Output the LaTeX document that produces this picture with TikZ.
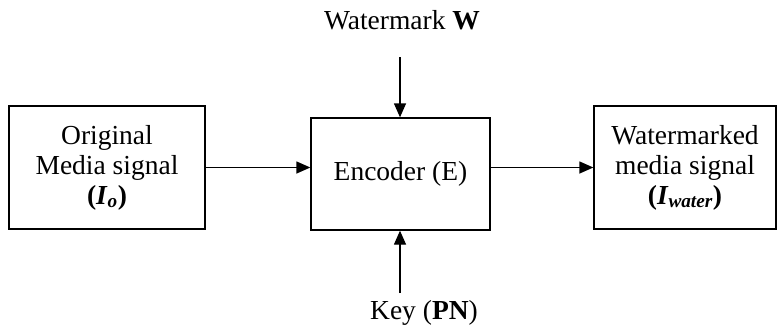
\documentclass[tikz,border=0pt]{standalone}
\usepackage{fontspec}
\setmainfont{Liberation Serif}
\usetikzlibrary{arrows.meta,positioning}

\begin{document}
\begin{tikzpicture}[x=1pt,y=-1pt,
        block/.style={draw,line width=1.3pt,inner sep=0pt,align=center},
        flow/.style={line width=1.3pt,-{Triangle[length=14pt,width=12pt]}},
        every node/.append style={font=\fontsize{27.5}{30}\selectfont}]
        \useasboundingbox (0,0) rectangle (777,332);
        % blocks
        \node [block,minimum width=196pt,minimum height=123pt] (orig) at (107,167.5)
                {Original\\Media signal\\\textbf{(\textit{I}\textsubscript{\textit{o}})}};
        \node [block,minimum width=179pt,minimum height=112pt] (enc) at (400.5,174) {Encoder (E)};
        \node [block,minimum width=182pt,minimum height=123pt] (out) at (685,167.5)
                {Watermarked\\media signal\\\textbf{(\textit{I}\textsubscript{\textit{water}})}};
        % inputs
        \node (wm) at (402,20) {Watermark \textbf{W}};
        \node (key) at (424,313) {Key (\textbf{PN})};
        \coordinate (wmstart) at (400,57);
        \coordinate (keystart) at (400,293);
        % connectors
        \draw [flow] (orig.east) -- (orig.east -| enc.west);
        \draw [flow] (out.west -| enc.east) -- (out.west);
        \draw [flow] (wmstart) -- (wmstart |- enc.north);
        \draw [flow] (keystart) -- (keystart |- enc.south);
\end{tikzpicture}
\end{document}
